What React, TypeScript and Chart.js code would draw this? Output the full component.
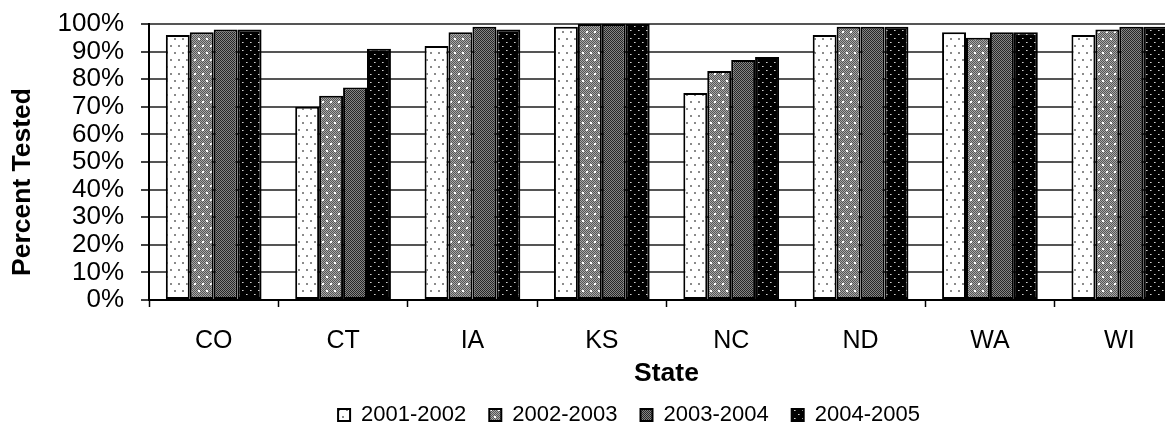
import React, { useEffect, useRef } from "react";
import { Chart, registerables } from "chart.js";

Chart.register(...registerables);

const states = ["CO", "CT", "IA", "KS", "NC", "ND", "WA", "WI"];
const seriesLabels = ["2001-2002", "2002-2003", "2003-2004", "2004-2005"];
const s2001 = [96, 70, 92, 99, 75, 96, 97, 96];
const s2002 = [97, 74, 97, 100, 83, 99, 95, 98];
const s2003 = [98, 77, 99, 100, 87, 99, 97, 99];
const s2004 = [98, 91, 98, 100, 88, 99, 97, 99];
const yTickValues = [0, 10, 20, 30, 40, 50, 60, 70, 80, 90, 100];
const xTitle = "State";
const yTitle = "Percent Tested";

const FONT = "'Liberation Sans', Arial, sans-serif";

function makePattern(
  w: number,
  h: number,
  draw: (c: CanvasRenderingContext2D) => void
): CanvasPattern | string {
  const cv = document.createElement("canvas");
  cv.width = w;
  cv.height = h;
  const c = cv.getContext("2d");
  if (!c) return "#888";
  draw(c);
  const ctx = document.createElement("canvas").getContext("2d");
  const p = ctx ? ctx.createPattern(cv, "repeat") : null;
  return p || "#888";
}

function checker(c: CanvasRenderingContext2D, w: number, h: number, a: string, b: string) {
  for (let y = 0; y < h; y++) {
    for (let x = 0; x < w; x++) {
      c.fillStyle = (x + y) % 2 === 0 ? a : b;
      c.fillRect(x, y, 1, 1);
    }
  }
}

function buildPatterns() {
  const p1 = makePattern(8, 14, (c) => {
    c.fillStyle = "#ffffff";
    c.fillRect(0, 0, 8, 14);
    c.fillStyle = "#8a8a8a";
    c.fillRect(2, 3, 2, 2);
    c.fillRect(6, 10, 2, 2);
  });
  const p2 = makePattern(8, 14, (c) => {
    checker(c, 8, 14, "#555555", "#a8a8a8");
    c.fillStyle = "#ffffff";
    c.fillRect(2, 3, 2, 2);
    c.fillRect(6, 10, 2, 2);
  });
  const p3 = makePattern(4, 4, (c) => {
    checker(c, 4, 4, "#262626", "#858585");
  });
  const p4 = makePattern(8, 8, (c) => {
    c.fillStyle = "#000000";
    c.fillRect(0, 0, 8, 8);
    c.fillStyle = "#cfcfcf";
    c.fillRect(2, 2, 1, 1);
    c.fillRect(6, 6, 1, 1);
    c.fillStyle = "#7a7a7a";
    c.fillRect(3, 2, 1, 1);
    c.fillRect(7, 6, 1, 1);
  });
  return [p1, p2, p3, p4];
}

const legendShift = {
  id: "legendShift",
  afterLayout(chart: any) {
    const lg = chart.legend;
    if (lg) {
      lg.left += 37;
      lg.right += 37;
    }
  },
};

export default function App() {
  const ref = useRef<HTMLCanvasElement | null>(null);

  useEffect(() => {
    if (!ref.current) return;
    const pats = buildPatterns();
    const values = [s2001, s2002, s2003, s2004];
    const chart = new Chart(ref.current, {
      type: "bar",
      data: {
        labels: states,
        datasets: seriesLabels.map((label, i) => ({
          label,
          data: values[i],
          backgroundColor: pats[i] as any,
          borderColor: "#000000",
          borderWidth: 2,
          borderSkipped: false,
          barPercentage: 1,
          categoryPercentage: 0.74,
        })),
      },
      options: {
        animation: false,
        responsive: false,
        devicePixelRatio: 1,
        layout: { padding: { top: 24, left: 0, right: 0, bottom: 0 } },
        font: { family: FONT },
        color: "#000",
        plugins: {
          tooltip: { enabled: false },
          legend: {
            position: "bottom",
            labels: {
              boxWidth: 12,
              boxHeight: 12,
              padding: 23,
              color: "#000",
              font: { family: FONT, size: 22 },
            },
          },
        },
        scales: {
          x: {
            type: "category",
            offset: true,
            grid: {
              offset: true,
              drawOnChartArea: false,
              drawTicks: true,
              tickLength: 7,
              tickColor: "#000",
              tickWidth: 1.5,
            },
            border: { color: "#000", width: 2 },
            ticks: {
              color: "#000",
              maxRotation: 0,
              minRotation: 0,
              padding: 19,
              font: { family: FONT, size: 25 },
            },
            title: {
              display: true,
              text: xTitle,
              color: "#000",
              padding: 0,
              font: { family: FONT, size: 26.5, weight: "bold", lineHeight: 0.55 },
            },
            afterFit(scale: any) {
              scale.height = 81;
            },
          },
          y: {
            min: 0,
            max: 100,
            afterBuildTicks(scale: any) {
              scale.ticks = yTickValues.map((v) => ({ value: v }));
            },
            grid: {
              color: (ctx: any) => (ctx.tick && ctx.tick.value === 0 ? "#000" : "#555"),
              lineWidth: 2,
              drawTicks: true,
              tickLength: 8,
              tickColor: "#000",
              tickWidth: 1.5,
            },
            border: { color: "#000", width: 2 },
            ticks: {
              color: "#000",
              padding: 17,
              autoSkip: false,
              stepSize: 10,
              font: { family: FONT, size: 26 },
              callback: (v: any) => `${v}%`,
            },
            title: {
              display: true,
              text: yTitle,
              color: "#000",
              padding: { top: 7, bottom: 0 },
              font: { family: FONT, size: 26.5, weight: "bold" },
            },
            afterFit(scale: any) {
              scale.width = 149;
              scale.paddingTop = 0;
              scale.paddingBottom = 0;
              if (!scale._titleShifted) {
                const orig = scale.drawTitle;
                scale.drawTitle = function (this: any) {
                  const c = this.ctx;
                  c.save();
                  c.translate(0, 20);
                  orig.call(this);
                  c.restore();
                };
                scale._titleShifted = true;
              }
            },
          },
        },
      } as any,
      plugins: [legendShift],
    });
    return () => chart.destroy();
  }, []);

  return (
    <div
      style={{
        position: "fixed",
        left: 0,
        top: 0,
        width: 1165,
        height: 426,
        overflow: "hidden",
        background: "#fff",
      }}
    >
      <canvas ref={ref} width={1184} height={436} style={{ display: "block" }} />
    </div>
  );
}
